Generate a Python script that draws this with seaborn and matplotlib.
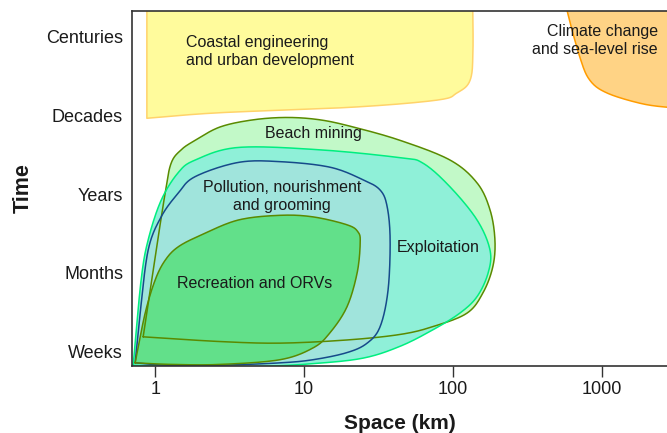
import numpy as np
import matplotlib
matplotlib.use("Agg")
import matplotlib.pyplot as plt
import seaborn as sns

# ---- data ----
time_labels = ["Weeks", "Months", "Years", "Decades", "Centuries"]
space_ticks = [1, 10, 100, 1000]
space_tick_labels = ["1", "10", "100", "1000"]

coastal_x = [0.88, 0.88, 2.7, 21, 78, 106, 130, 136, 135]
coastal_y = [4.6, 2.96, 3.03, 3.10, 3.19, 3.28, 3.44, 3.82, 4.6]

climate_x = [555, 582, 711, 830, 1081, 1800, 2730, 4000, 4000]
climate_y = [4.6, 4.33, 3.73, 3.44, 3.28, 3.15, 3.10, 3.09, 4.6]

beach_x = [0.831, 1.0, 1.167, 1.28, 1.495, 1.855, 2.73, 4.54, 7.69, 12.8, 21.3,
           44.1, 95.5, 145, 177, 191, 185, 159, 124, 73.4, 44.1, 19.4, 6.9, 2.73]
beach_y = [0.19, 1.20, 2.01, 2.39, 2.56, 2.68, 2.85, 2.94, 2.97, 2.94, 2.85,
           2.68, 2.43, 2.14, 1.80, 1.42, 1.08, 0.75, 0.49, 0.32, 0.22, 0.15, 0.11, 0.13]

exploit_x = [0.712, 0.805, 0.898, 1.097, 1.427, 1.855, 3.61, 12.8, 44.1, 62.9,
             95.5, 145, 177, 172, 145, 111, 73.4, 44.1, 24.9, 11.5, 4.54, 1.64]
exploit_y = [-0.17, 0.91, 1.42, 1.92, 2.27, 2.43, 2.59, 2.56, 2.46, 2.39,
             2.09, 1.67, 1.29, 1.00, 0.70, 0.49, 0.28, 0.07, -0.08, -0.15, -0.19, -0.19]

pollution_x = [0.734, 0.793, 0.898, 1.097, 1.427, 1.855, 3.61, 6.9, 14.9, 24.9,
               32.4, 36.1, 37.8, 36.6, 32.4, 26.5, 19.4, 11.5, 6.9, 2.73, 1.2]
pollution_y = [-0.14, 0.49, 1.29, 1.71, 2.01, 2.22, 2.40, 2.41, 2.34, 2.18,
               2.05, 1.84, 1.42, 0.78, 0.32, 0.11, -0.01, -0.10, -0.14, -0.17, -0.17]

recreation_x = [0.734, 0.857, 1.0, 1.167, 1.427, 2.035, 3.61, 6.9, 11.5, 19.4,
                23.0, 23.8, 22.7, 19.4, 14.9, 11.5, 6.9, 2.73, 1.3]
recreation_y = [-0.14, 0.49, 0.91, 1.16, 1.33, 1.48, 1.67, 1.73, 1.71, 1.61,
                1.52, 1.38, 1.00, 0.57, 0.24, 0.05, -0.10, -0.16, -0.16]

label_coastal = (1.61, 3.80)
label_climate = (2377, 3.94)
label_beach = (11.5, 2.77)
label_pollution = (7.11, 1.97)
label_exploit = (79.3, 1.32)
label_recreation = (4.69, 0.86)


def smooth_outline(xs, ys, corners=(), n=20):
    """Closed Catmull-Rom curve through the outline vertices (log-x space),
    keeping the listed vertices as sharp corners."""
    P = np.column_stack([np.log10(np.asarray(xs, float)), np.asarray(ys, float)])
    m = len(P)
    cs = set(c % m for c in corners)
    t = np.linspace(0, 1, n, endpoint=False)[:, None]
    out = []
    for i in range(m):
        j = (i + 1) % m
        p1, p2 = P[i], P[j]
        p0 = 2 * p1 - p2 if i in cs else P[(i - 1) % m]
        p3 = 2 * p2 - p1 if j in cs else P[(i + 2) % m]
        seg = 0.5 * ((2 * p1) + (-p0 + p2) * t + (2 * p0 - 5 * p1 + 4 * p2 - p3) * t ** 2
                     + (-p0 + 3 * p1 - 3 * p2 + p3) * t ** 3)
        out.append(seg)
    out = np.vstack(out + [P[:1]])
    return 10 ** out[:, 0], out[:, 1]


sns.set_theme(style="white")
plt.rcParams["font.family"] = ["Liberation Sans", "DejaVu Sans"]

fig = plt.figure(figsize=(6.67, 4.33), dpi=100)
ax = fig.add_axes([0.198, 0.1547, 0.802, 0.82])

shapes = [
    (coastal_x, coastal_y, "#fffb9c", "#ffd36a", (0, 1, -1)),
    (climate_x, climate_y, "#ffd385", "#ff9c00", (0, -2, -1)),
    (beach_x, beach_y, "#c2f9c8", "#5a8a00", (0,)),
    (exploit_x, exploit_y, "#8ff0d8", "#00ee80", (0,)),
    (pollution_x, pollution_y, "#a0e4dc", "#164a8a", (0,)),
    (recreation_x, recreation_y, "#62e08a", "#5a8a00", (0,)),
]
curves = [smooth_outline(sx, sy, cn) for sx, sy, _, _, cn in shapes]
for (cx, cy), s in zip(curves, shapes):
    ax.fill(cx, cy, color=s[2], lw=0, zorder=1)
for (cx, cy), s in zip(curves, shapes):
    ax.plot(cx, cy, color=s[3], lw=1.1, zorder=2)

tc = "#1a1a1a"
fs = 11.5
ax.text(*label_coastal, "Coastal engineering\nand urban development", ha="left", va="center",
        fontsize=fs, color=tc, linespacing=1.25, zorder=3)
ax.text(*label_climate, "Climate change\nand sea-level rise", ha="right", va="center",
        multialignment="right", fontsize=fs, color=tc, linespacing=1.25, zorder=3)
ax.text(*label_beach, "Beach mining", ha="center", va="center", fontsize=fs, color=tc, zorder=3)
ax.text(*label_pollution, "Pollution, nourishment\nand grooming", ha="center", va="center",
        fontsize=fs, color=tc, linespacing=1.25, zorder=3)
ax.text(*label_exploit, "Exploitation", ha="center", va="center", fontsize=fs, color=tc, zorder=3)
ax.text(*label_recreation, "Recreation and ORVs", ha="center", va="center", fontsize=fs,
        color=tc, zorder=3)

ax.set_xscale("log")
ax.set_xlim(0.70, 2730)
ax.set_ylim(-0.18, 4.32)
ax.set_xticks(space_ticks)
ax.set_xticklabels(space_tick_labels)
ax.minorticks_off()
ax.set_yticks(range(len(time_labels)))
ax.set_yticklabels(time_labels)
ax.tick_params(axis="x", which="major", direction="out", length=8, width=1.0,
               color="#333333", labelsize=13, labelcolor=tc, pad=3, bottom=True)
ax.tick_params(axis="y", length=0, labelsize=13, labelcolor=tc, pad=6.5)

for side in ["left", "bottom", "top"]:
    ax.spines[side].set_visible(True)
    ax.spines[side].set_color("#333333")
    ax.spines[side].set_linewidth(1.2)
    ax.spines[side].set_zorder(4)
ax.spines["right"].set_visible(False)

ax.set_xlabel("Space (km)", fontsize=15, fontweight="bold", color=tc, labelpad=11)
ax.set_ylabel("Time", fontsize=15.5, fontweight="bold", color=tc, labelpad=9)

fig.savefig("out.png", dpi=100)
